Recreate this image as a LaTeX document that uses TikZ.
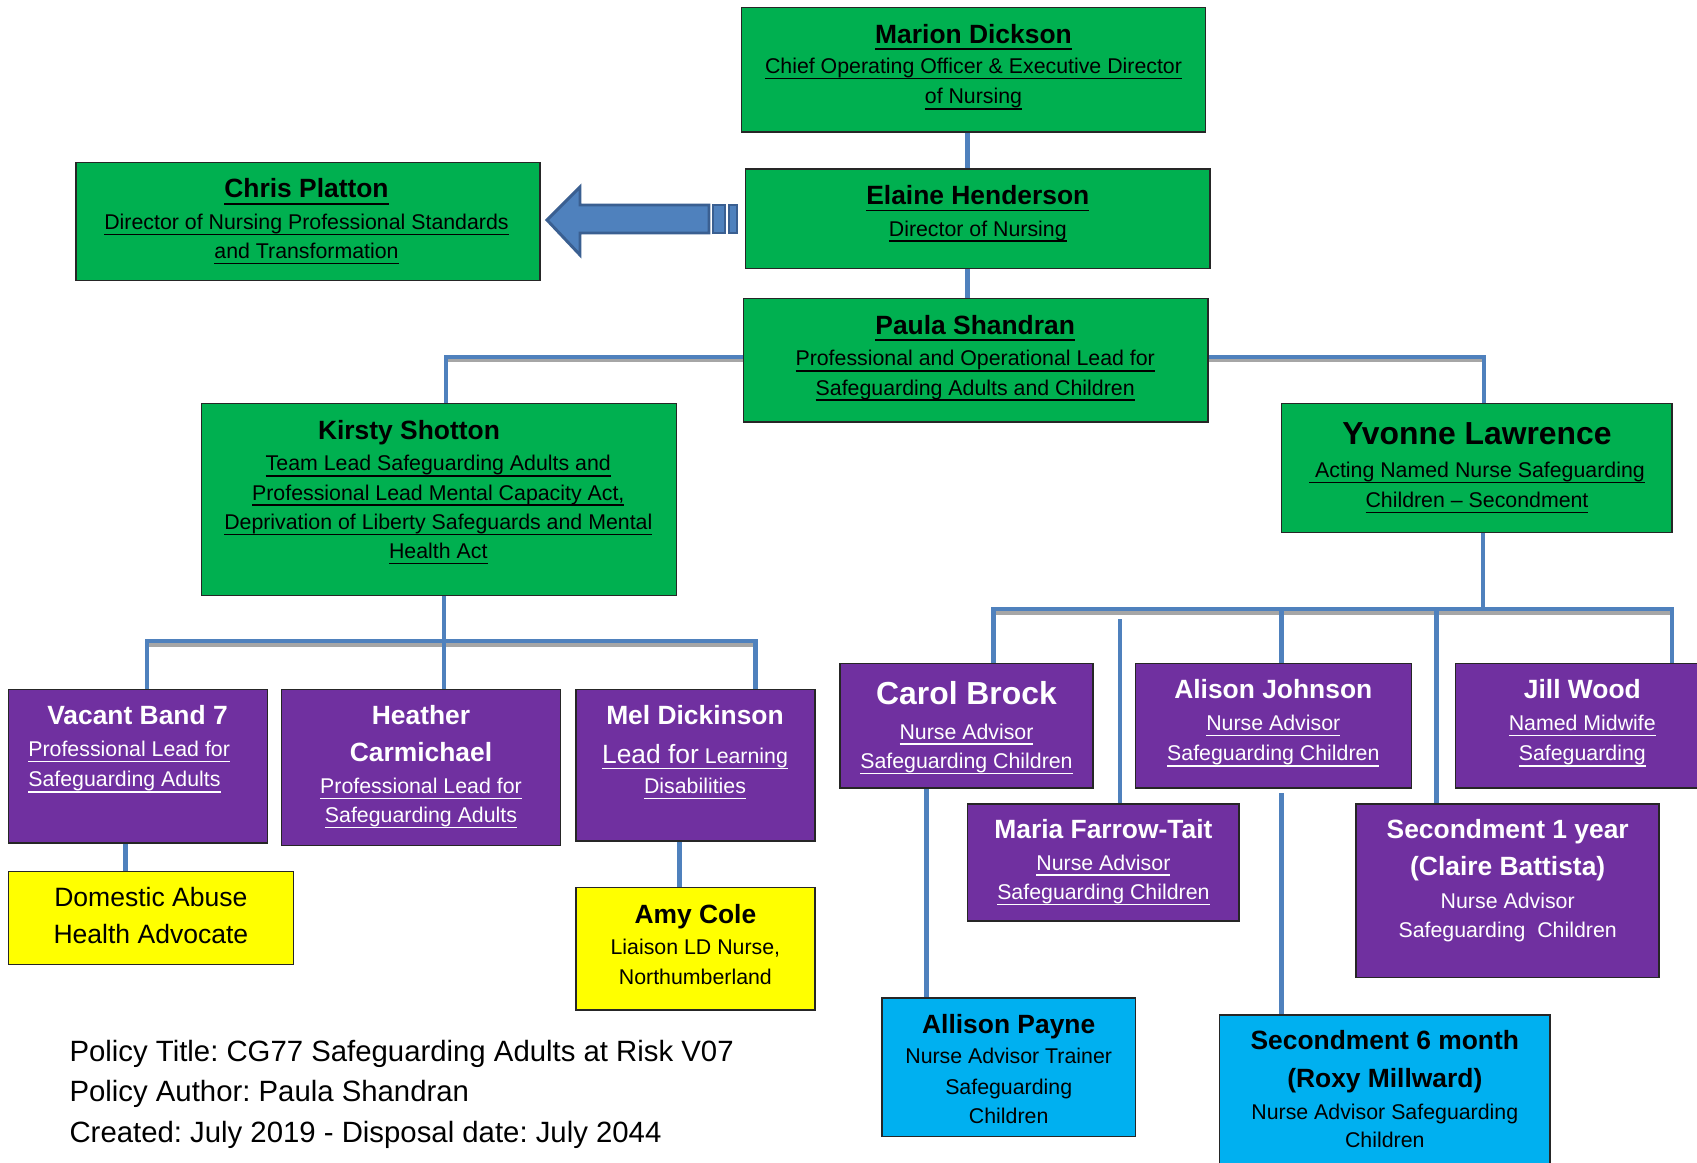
\documentclass[tikz,border=0pt]{standalone}
\usepackage{fontspec}
\setmainfont{Liberation Sans}
\frenchspacing
\newcommand{\myul}[1]{\leavevmode\setbox0\hbox{#1}\dp0=0pt\vtop{\copy0\kern0.2em\hrule height 1.1pt}}
\usetikzlibrary{fit}
\definecolor{cgreen}{HTML}{00B050}
\definecolor{cpurple}{HTML}{7030A0}
\definecolor{cyellow}{HTML}{FFFF00}
\definecolor{ccyan}{HTML}{00B0F0}
\definecolor{cblue}{HTML}{4F81BD}
\definecolor{cshadow}{HTML}{A6A6A6}
\definecolor{carrowline}{HTML}{3A5F91}
\pgfdeclarelayer{bg}
\pgfsetlayers{bg,main}
\begin{document}
\begin{tikzpicture}[x=0.75pt,y=-0.75pt,
  box/.style={draw=black!85, line width=1.1pt, inner sep=0pt, outer sep=0pt},
  gbox/.style={box, fill=cgreen},
  pbox/.style={box, fill=cpurple},
  ybox/.style={box, fill=cyellow},
  cbox/.style={box, fill=ccyan},
  conn/.style={draw=cblue, line width=3.2pt},
  shad/.style={draw=cshadow, line width=3.2pt},
  nm/.style={font=\fontsize{19.8pt}{24pt}\selectfont\bfseries, anchor=base, inner sep=0pt},
  bignm/.style={font=\fontsize{23.9pt}{28pt}\selectfont\bfseries, anchor=base, inner sep=0pt},
  sb/.style={font=\fontsize{16pt}{19pt}\selectfont, anchor=base, inner sep=0pt},
  mid/.style={font=\fontsize{19.9pt}{24pt}\selectfont, anchor=base, inner sep=0pt},
  foot/.style={font=\fontsize{22pt}{26pt}\selectfont, anchor=base west, inner sep=0pt},
  wt/.style={text=white}
]
\useasboundingbox (0,0) rectangle (1697,1163);
\clip (0,0) rectangle (1697,1163);

% ---------- boxes ----------
\node[gbox, fit={(741.4,7.6) (1205.7,132)}] (marion) {};
\node[gbox, fit={(745.7,168.8) (1210,268.4)}] (elaine) {};
\node[gbox, fit={(75.8,162.3) (540.1,280.3)}] (chris) {};
\node[gbox, fit={(743.5,298.7) (1207.8,422.1)}] (paula) {};
\node[gbox, fit={(201.3,403.7) (676.4,595.3)}] (kirsty) {};
\node[gbox, fit={(1281.4,403.7) (1672.2,532.5)}] (yvonne) {};
\node[pbox, fit={(8.7,689.4) (267.3,843.1)}] (vacant) {};
\node[pbox, fit={(281.4,689.4) (560.6,845.3)}] (heather) {};
\node[pbox, fit={(575.8,689.4) (815,841)}] (mel) {};
\node[ybox, fit={(8.7,871.3) (293.3,964.3)}] (domestic) {};
\node[ybox, fit={(575.8,887.5) (815,1009.8)}] (amy) {};
\node[pbox, fit={(839.9,663.5) (1093.1,787.9)}] (carol) {};
\node[pbox, fit={(1135.3,663.5) (1411.3,787.9)}] (alison) {};
\node[pbox, fit={(1455.7,663.5) (1712,787.9)}] (jill) {};
\node[pbox, fit={(967.6,804.1) (1239.2,921)}] (maria) {};
\node[pbox, fit={(1356.1,804.1) (1659.2,977.3)}] (secone) {};
\node[cbox, fit={(882.1,997.9) (1135.3,1136.4)}] (allison) {};
\node[cbox, fit={(1219.7,1015.2) (1549.8,1185)}] (secsix) {};

% ---------- coordinates ----------
\coordinate (xa) at (967.6,0);
\coordinate (pl) at (445.9,356.8);
\coordinate (pr) at (1483.8,356.8);
\coordinate (kb) at (443.7,641);
\coordinate (kl) at (147.2,641);
\coordinate (kr) at (755.4,641);
\coordinate (xd) at (125.5,0);
\coordinate (xm) at (679.5,0);
\coordinate (yb) at (1482.8,609.3);
\coordinate (yl) at (993.6,609.3);
\coordinate (yr) at (1672.2,609.3);
\coordinate (ya) at (1281.4,609.3);
\coordinate (ys) at (1436.6,609.3);
\coordinate (ym) at (1120.2,619);
\coordinate (xc) at (926.5,0);
\coordinate (as6) at (1281.4,793);

% ---------- connectors ----------
\begin{pgfonlayer}{bg}
\fill[white] (0,0) rectangle (1697,1163);
\draw[shad] ([yshift=-2.6pt]paula.west |- pl) -- ([yshift=-2.6pt]pl);
\draw[shad] ([yshift=-2.6pt]paula.east |- pr) -- ([yshift=-2.6pt]pr);
\draw[shad] ([yshift=-2.6pt]kl) -- ([yshift=-2.6pt]kr);
\draw[shad] ([yshift=-2.6pt]yl) -- ([yshift=-2.6pt]yr);
\draw[conn] (marion.south -| xa) -- (elaine.north -| xa);
\draw[conn] (elaine.south -| xa) -- (paula.north -| xa);
\draw[conn] (paula.west |- pl) -| (kirsty.north -| pl);
\draw[conn] (paula.east |- pr) -| (yvonne.north -| pr);
\draw[conn] (kirsty.south -| kb) -- (heather.north -| kb);
\draw[conn] (vacant.north -| kl) -- (kl) -- (kr) -- (mel.north -| kr);
\draw[conn] (vacant.south -| xd) -- (domestic.north -| xd);
\draw[conn] (mel.south -| xm) -- (amy.north -| xm);
\draw[conn] (yvonne.south -| yb) -- (yb);
\draw[conn] (carol.north -| yl) -- (yl) -- (yr) -- (jill.north -| yr);
\draw[conn] (ya) -- (alison.north -| ya);
\draw[conn] (ys) -- (secone.north -| ys);
\draw[conn] (ym) -- (maria.north -| ym);
\draw[conn] (carol.south -| xc) -- (allison.north -| xc);
\draw[conn] (as6) -- (secsix.north -| as6);
\end{pgfonlayer}

% ---------- striped block arrow (Elaine -> Chris) ----------
\draw[fill=cblue, draw=carrowline, line width=2.2pt, line join=miter]
  (547,220) -- (580,187) -- (580,205) -- (709,205) -- (709,233) -- (580,233) -- (580,255) -- cycle;
\draw[fill=cblue, draw=carrowline, line width=2.2pt] (713,205) rectangle (725,233);
\draw[fill=cblue, draw=carrowline, line width=2.2pt] (729,205) rectangle (737,233);

% ---------- texts ----------
\node[nm] (marionN) at (973.5,43.1) {\myul{Marion Dickson}};
\node[sb] (marionT1) at (973.5,73.6) {\myul{Chief Operating Officer \& Executive Director}};
\node[sb] (marionT2) at (973.5,103.9) {\myul{of Nursing}};

\node[nm] (elaineN) at (977.8,204.3) {\myul{Elaine Henderson}};
\node[sb] (elaineT1) at (977.8,236) {\myul{Director of Nursing}};

\node[nm] (chrisN) at (306.5,197.8) {\myul{Chris Platton}};
\node[sb] (chrisT1) at (306.5,229.5) {\myul{Director of Nursing Professional Standards}};
\node[sb] (chrisT2) at (306.5,258.7) {\myul{and Transformation}};

\node[nm] (paulaN) at (975.2,334.2) {\myul{Paula Shandran}};
\node[sb] (paulaT1) at (975.2,365.8) {\myul{Professional and Operational Lead for}};
\node[sb] (paulaT2) at (975.2,395.1) {\myul{Safeguarding Adults and Children}};

\node[nm] (kirstyN) at (409,439.2) {Kirsty Shotton};
\node[sb] (kirstyT1) at (438.3,470.8) {\myul{Team Lead Safeguarding Adults and}};
\node[sb] (kirstyT2) at (438.3,500) {\myul{Professional Lead Mental Capacity Act,}};
\node[sb] (kirstyT3) at (438.3,529.3) {\myul{Deprivation of Liberty Safeguards and Mental}};
\node[sb] (kirstyT4) at (438.3,558.5) {\myul{Health Act}};

\node[bignm] (yvonneN) at (1477,444.3) {Yvonne Lawrence};
\node[sb] (yvonneT1) at (1477,477.3) {\myul{\ Acting Named Nurse Safeguarding}};
\node[sb] (yvonneT2) at (1477,507.6) {\myul{Children -- Secondment}};

\node[nm, wt] (vacantN) at (137.5,724.9) {Vacant Band 7};
\node[sb, wt, anchor=base west] (vacantT1) at (28.1,756.6) {\myul{Professional Lead for}};
\node[sb, wt, anchor=base west] (vacantT2) at (28.1,786.9) {\myul{Safeguarding Adults}};

\node[nm, wt] (heatherN1) at (421,724.9) {Heather};
\node[nm, wt] (heatherN2) at (421,761.7) {Carmichael};
\node[sb, wt] (heatherT1) at (421,793.4) {\myul{Professional Lead for}};
\node[sb, wt] (heatherT2) at (421,822.6) {\myul{Safeguarding Adults}};

\node[nm, wt] (melN) at (695,724.9) {Mel Dickinson};
\node[sb, wt] (melT1) at (695,763.5) {\myul{{\fontsize{19.8pt}{24pt}\selectfont Lead for} Learning}};
\node[sb, wt] (melT2) at (695,793.4) {\myul{Disabilities}};

\node[mid] (domT1) at (150.9,906.7) {Domestic Abuse};
\node[mid] (domT2) at (150.9,943.5) {Health Advocate};

\node[nm] (amyN) at (695.4,923) {Amy Cole};
\node[sb] (amyT1) at (695.4,954.6) {Liaison LD Nurse,};
\node[sb] (amyT2) at (695.4,984.9) {Northumberland};

\node[bignm, wt] (carolN) at (966.5,704.1) {Carol Brock};
\node[sb, wt] (carolT1) at (966.5,739.2) {\myul{Nurse Advisor}};
\node[sb, wt] (carolT2) at (966.5,768.5) {\myul{Safeguarding Children}};

\node[nm, wt] (alisonN) at (1273.3,698.9) {Alison Johnson};
\node[sb, wt] (alisonT1) at (1273.3,730.6) {\myul{Nurse Advisor}};
\node[sb, wt] (alisonT2) at (1273.3,760.9) {\myul{Safeguarding Children}};

\node[nm, wt] (jillN) at (1582.3,698.9) {Jill Wood};
\node[sb, wt] (jillT1) at (1582.3,730.6) {\myul{Named Midwife}};
\node[sb, wt] (jillT2) at (1582.3,760.9) {\myul{Safeguarding}};

\node[nm, wt] (mariaN) at (1103.4,838.5) {Maria Farrow-Tait};
\node[sb, wt] (mariaT1) at (1103.4,870.2) {\myul{Nurse Advisor}};
\node[sb, wt] (mariaT2) at (1103.4,899.4) {\myul{Safeguarding Children}};

\node[nm, wt] (seconeN1) at (1507.7,838.5) {Secondment 1 year};
\node[nm, wt] (seconeN2) at (1507.7,875.3) {(Claire Battista)};
\node[sb, wt] (seconeT1) at (1507.7,908.1) {Nurse Advisor};
\node[sb, wt] (seconeT2) at (1507.7,937.3) {Safeguarding~ Children};

\node[nm] (allisonN) at (1008.7,1033.4) {Allison Payne};
\node[sb] (allisonT1) at (1008.7,1063.9) {Nurse Advisor Trainer};
\node[sb] (allisonT2) at (1008.7,1094.2) {Safeguarding};
\node[sb] (allisonT3) at (1008.7,1123.5) {Children};

\node[nm] (secsixN1) at (1384.8,1049.6) {Secondment 6 month};
\node[nm] (secsixN2) at (1384.8,1087.5) {(Roxy Millward)};
\node[sb] (secsixT1) at (1384.8,1119.1) {Nurse Advisor Safeguarding};
\node[sb] (secsixT2) at (1384.8,1147.3) {Children};

\node[foot] (foot1) at (69.3,1061.4) {Policy Title: CG77 Safeguarding Adults at Risk V07};
\node[foot] (foot2) at (69.3,1101.5) {Policy Author: Paula Shandran};
\node[foot] (foot3) at (69.3,1142.6) {Created: July 2019 - Disposal date: July 2044};
\end{tikzpicture}
\end{document}
